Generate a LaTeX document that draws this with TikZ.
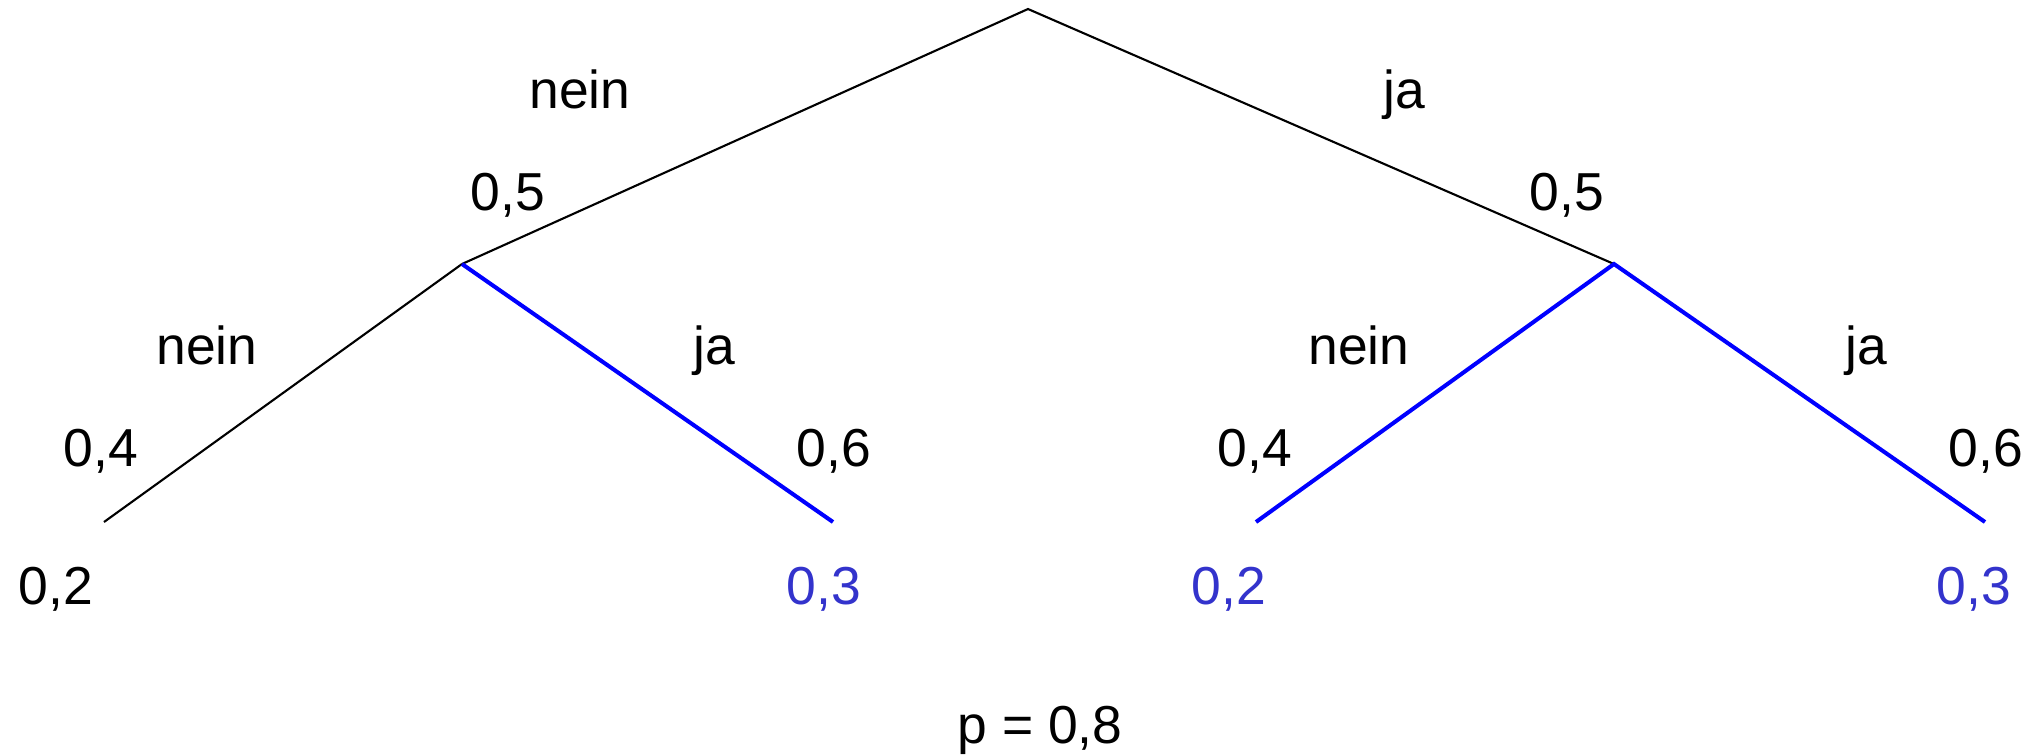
\documentclass[tikz,border=0pt]{standalone}
\usepackage{fontspec}
\setmainfont{Liberation Sans}
\usepackage{xcolor}
\usetikzlibrary{positioning}
\definecolor{hitblue}{RGB}{0,0,255}
\definecolor{valblue}{RGB}{51,51,204}

\begin{document}
\begin{tikzpicture}[
  x=0.01cm, y=-0.01cm,
  lbl/.style    = {anchor=base, inner sep=0pt, font=\fontsize{15.2}{18}\selectfont},
  val/.style    = {lbl, text=valblue},
  edge/.style   = {line width=0.6pt, black},
  hit/.style    = {line width=1.15pt, hitblue},
]
  \useasboundingbox (0,0) rectangle (2041,754);
  % tree points
  \coordinate (root) at (1028,9);
  \coordinate (n)    at (462,264);
  \coordinate (j)    at (1614,264);
  \coordinate (nn)   at (104,522);
  \coordinate (nj)   at (833,522);
  \coordinate (jn)   at (1256,522);
  \coordinate (jj)   at (1985,522);
  \draw[edge] (n) -- (root) -- (j);
  \draw[edge] (nn) -- (n);
  \draw[hit]  (n) -- (nj);
  \draw[hit]  (jn) -- (j) -- (jj);
  % branch labels
  \node[lbl] (lnein)  at (580,108)  {nein};
  \node[lbl] (pnein)  at (508,210)  {0,5};
  \node[lbl] (lja)    at (1404,108) {ja};
  \node[lbl] (pja)    at (1567,210) {0,5};
  \node[lbl] (lnn)    at (207,364)  {nein};
  \node[lbl] (pnn)    at (101,466)  {0,4};
  \node[lbl] (lnj)    at (714,364)  {ja};
  \node[lbl] (pnj)    at (834,466)  {0,6};
  \node[lbl] (ljn)    at (1359,364) {nein};
  \node[lbl] (pjn)    at (1255,466) {0,4};
  \node[lbl] (ljj)    at (1866,364) {ja};
  \node[lbl] (pjj)    at (1986,466) {0,6};
  % leaf values
  \node[lbl] (vnn) at (56,604)   {0,2};
  \node[val] (vnj) at (824,604)  {0,3};
  \node[val] (vjn) at (1229,604) {0,2};
  \node[val] (vjj) at (1974,604) {0,3};
  \node[lbl] (prob) at (1040,743) {p = 0,8};
\end{tikzpicture}
\end{document}
